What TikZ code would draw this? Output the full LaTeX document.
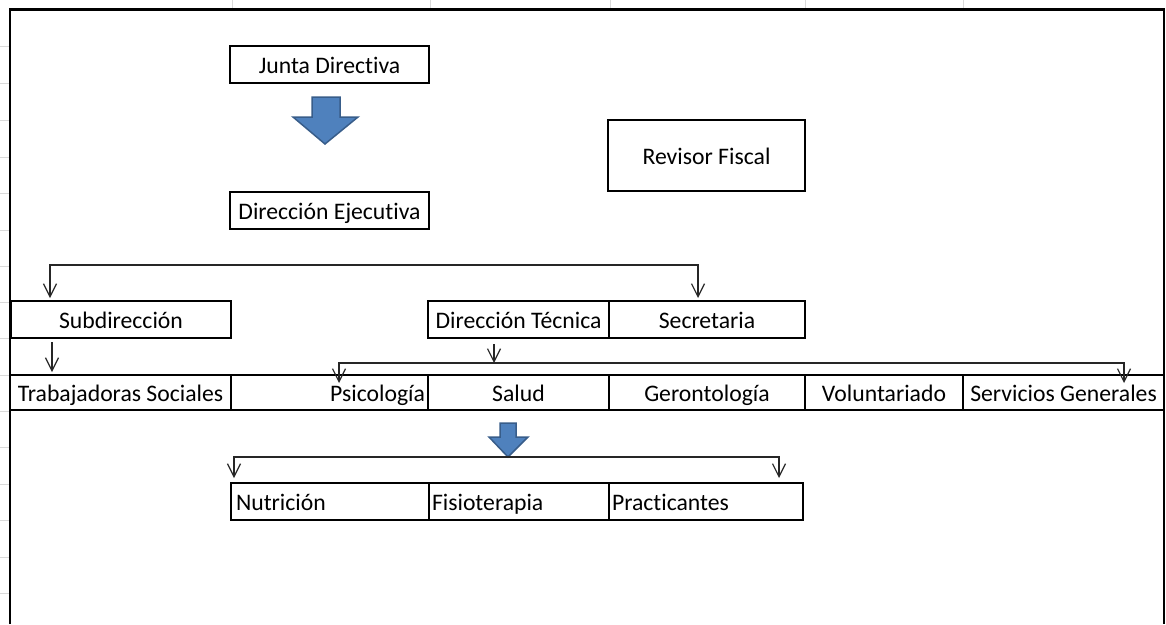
\documentclass[tikz,border=0pt]{standalone}
\usepackage{fontspec}
\setmainfont{Carlito}[Ligatures=NoCommon]
\usetikzlibrary{arrows.meta}
\definecolor{arrowfill}{HTML}{4F81BD}
\definecolor{arrowline}{HTML}{385D8A}
\definecolor{gridgray}{HTML}{D9D9D9}
\begin{document}
\begin{tikzpicture}[x=1pt,y=-1pt,
  box/.style={draw=black, line width=2.8pt, rectangle, anchor=north west,
    inner sep=0pt, outer sep=0pt, text height=17pt, text depth=0pt,
    font=\fontsize{23.7}{28}\selectfont},
  frame/.style={draw=black, line width=2.8pt},
  gridline/.style={draw=gridgray, line width=1pt},
  conn/.style={draw=black!85, line width=1.2pt},
  tip/.tip={Straight Barb[length=13pt,width=13pt,line width=1.2pt]},
  blockarrow/.style={fill=arrowfill, draw=arrowline, line width=1.5pt, line join=miter}
]
\useasboundingbox (0,0) rectangle (1166,624);
\fill[white] (0,0) rectangle (1166,624);

% spreadsheet grid visible outside the frame
\foreach \gx in {232,430,610,805,963} \draw[gridline] (\gx,0) -- (\gx,9);
\foreach \gy in {46,83,120,157,193,230,266,302,338,375,411,447,484,520,557,593}
  \draw[gridline] (0,\gy) -- (9,\gy);

% outer frame (open at the bottom)
\draw[frame] (10,624) -- (10,9.5) -- (1164,9.5) -- (1164,624);

% top boxes
\node[box, minimum width=199pt, minimum height=37pt] (junta) at (230,46) {Junta Directiva};
\node[box, minimum width=199pt, minimum height=37pt] (direj) at (230,192) {Dirección Ejecutiva};
\node[box, minimum width=197pt, minimum height=71pt] (revisor) at (608,120) {Revisor Fiscal};

% block arrow 1
\draw[blockarrow] (312,97) -- (340,97) -- (340,117) -- (358,117) -- (325,144) -- (293,117) -- (312,117) -- cycle;

% second level
\node[box, minimum width=220pt, minimum height=37pt] (sub) at (11,301) {Subdirección};
\node[box, minimum width=181pt, minimum height=37pt] (dtec) at (428,301) {Dirección Técnica};
\node[box, minimum width=196pt, minimum height=37pt] (secr) at (609,301) {Secretaria};

% row of areas
\node[box, minimum width=221pt, minimum height=35pt] (trab) at (10,375) {Trabajadoras Sociales};
\node[box, minimum width=197pt, minimum height=35pt, inner xsep=3pt, text width=191pt, align=right] (psic) at (231,375) {Psicología};
\node[box, minimum width=181pt, minimum height=35pt] (salud) at (428,375) {Salud};
\node[box, minimum width=196pt, minimum height=35pt] (geron) at (609,375) {Gerontología};
\node[box, minimum width=158pt, minimum height=35pt] (volun) at (805,375) {Voluntariado};
\node[box, minimum width=201pt, minimum height=35pt] (serv) at (963,375) {Servicios Generales};

% block arrow 2
\draw[blockarrow] (500,423) -- (516,423) -- (516,437) -- (528,437) -- (508,457) -- (489,437) -- (500,437) -- cycle;

% bottom row
\node[box, minimum width=198pt, minimum height=37pt, inner xsep=5pt, text width=188pt, align=left] (nutri) at (231,483) {Nutrición};
\node[box, minimum width=180pt, minimum height=37pt, inner xsep=3pt, text width=174pt, align=left] (fisio) at (429,483) {Fisioterapia};
\node[box, minimum width=194pt, minimum height=37pt, inner xsep=3pt, text width=188pt, align=left] (pract) at (609,483) {Practicantes};

% connectors
\coordinate (j1) at (50,265);
\coordinate (j2) at (698,265);
\coordinate (j1e) at (50,298);
\coordinate (j2e) at (698,298);
\draw[conn, tip-tip] (j1e) -- (j1) -- (j2) -- (j2e);

\coordinate (s1) at (52,342);
\coordinate (s1e) at (52,372);
\draw[conn, -tip] (s1) -- (s1e);

\coordinate (d1) at (494,344);
\coordinate (d2) at (494,363);
\draw[conn, -tip] (d1) -- (d2);

\coordinate (p1) at (339,363);
\coordinate (p2) at (1124,363);
\coordinate (p1e) at (339,383);
\coordinate (p2e) at (1124,383);
\draw[conn, tip-tip] (p1e) -- (p1) -- (p2) -- (p2e);

\coordinate (b1) at (234,457);
\coordinate (b2) at (779,457);
\coordinate (b1e) at (234,478);
\coordinate (b2e) at (779,478);
\draw[conn, tip-tip] (b1e) -- (b1) -- (b2) -- (b2e);
\end{tikzpicture}
\end{document}
